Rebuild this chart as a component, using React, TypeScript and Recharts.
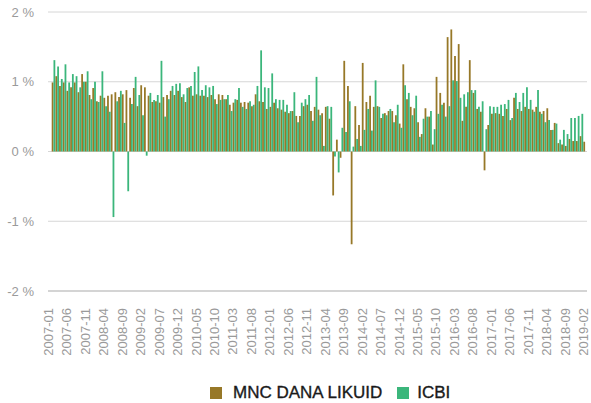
import React from 'react';
import { BarChart, Bar, XAxis, YAxis, CartesianGrid, Legend } from 'recharts';

// Category labels: monthly, 2007-01 .. 2019-02 (146 months)
const months: string[] = [];
for (let k = 0; k < 146; k++) {
  const y = 2007 + Math.floor(k / 12);
  const m = (k % 12) + 1;
  months.push(`${y}-${m < 10 ? '0' + m : m}`);
}

// MNC DANA LIKUID monthly return (%)
const mncValues: (number | null)[] = [
  null,
  0.99, 1.08, 0.94, 0.99, 0.87, 0.92, 0.99, 0.85, 1.11, 1.00,
  0.81, 0.91, 0.72, 0.80, 0.77, 0.80, 0.82, 0.85, 0.78, 0.82,
  0.88, 0.77, 0.91, 0.65, 0.95, 0.92, 0.80, 0.71, 0.72, 0.70,
  0.78, 0.81, 0.87, 0.81, 0.87, 0.78, 0.71, 0.92, 0.80, 0.82,
  0.80, 0.80, 0.78, 0.81, 0.75, 0.82, 0.81, 0.75, 0.67, 0.70,
  0.74, 0.70, 0.71, 0.70, 0.65, 0.82, 0.72, 0.71, 0.61, 0.64,
  0.70, 0.62, 0.60, 0.57, 0.55, 0.58, 0.51, 0.51, 0.65, 0.67,
  0.58, 0.64, 0.60, 0.55, 0.64, 0.47, -0.63, 0.17, -0.09, 1.30,
  0.94, -1.33, 0.65, 0.38, 1.27, 0.71, 0.80, 0.64, 0.65, 0.48,
  0.55, 0.58, 0.58, 0.52, 0.40, 1.25, 0.75, 0.64, 0.62, 0.42,
  0.25, 0.62, 0.50, 0.10, 1.07, 0.84, 0.70, 1.64, 1.75, 1.37,
  1.54, 0.44, 0.64, 1.31, 0.84, 0.61, 0.57, -0.27, 0.38, 0.54,
  0.55, 0.54, 0.51, 0.61, 0.45, 0.77, 0.61, 0.58, 0.64, 0.61,
  0.60, 0.64, 0.57, 0.58, 0.62, 0.31, 0.41, 0.12, 0.10, 0.08,
  0.18, 0.15, 0.15, 0.22, 0.14,
];

// ICBI monthly return (%)
const icbiValues: (number | null)[] = [
  null,
  1.31, 1.22, 1.04, 1.25, 0.99, 1.11, 1.08, 0.92, 1.00, 1.15,
  0.75, 1.00, 0.71, 1.15, 0.65, 0.57, -0.94, 0.72, 0.87, 0.41,
  -0.57, 0.68, 1.07, 0.81, 0.52, -0.06, 0.84, 0.74, 0.81, 1.30,
  0.50, 0.75, 0.94, 0.97, 0.98, 0.82, 0.91, 0.94, 1.14, 1.22,
  0.88, 0.95, 0.92, 0.94, 0.68, 0.74, 0.75, 0.81, 0.58, 0.75,
  0.91, 0.64, 0.61, 0.72, 0.67, 0.94, 1.45, 0.92, 0.91, 1.12,
  0.75, 0.74, 0.74, 0.67, 0.58, 0.85, 0.42, 0.70, 0.75, 0.81,
  0.44, 1.07, 0.52, 0.08, 0.65, 0.64, -0.07, -0.30, 0.34, 0.28,
  0.72, 0.07, 0.18, 0.08, 0.31, 0.61, 0.30, 1.02, 0.64, 0.54,
  0.52, 0.61, 0.42, 0.67, 0.34, 0.95, 0.84, 0.52, 0.80, 0.21,
  0.47, 0.50, 0.58, 0.32, 0.54, 0.67, 0.50, 0.65, 1.02, 1.01,
  0.77, 0.82, 0.85, 0.88, 0.88, 0.64, 0.72, 0.32, 0.65, 0.64,
  0.64, 0.67, 0.68, 0.74, 0.48, 0.84, 0.71, 0.84, 0.92, 0.74,
  0.57, 0.88, 0.54, 0.42, 0.45, 0.31, 0.40, 0.17, 0.31, 0.25,
  0.48, 0.48, 0.51, 0.54,
  null,
];

const yTicks = [-2, -1, 0, 1, 2];

const seriesNames = ['MNC DANA LIKUID', 'ICBI'];
const seriesColors = ['#977828', '#3bb67b'];

const data = months.map((month, i) => ({
  month,
  mnc: mncValues[i],
  icbi: icbiValues[i],
}));

const FONT = '"Liberation Sans", Arial, Helvetica, sans-serif';

const XTick = (props: any) => {
  const { x, y, payload } = props;
  const tx = x - 1.5;
  return (
    <text
      x={tx}
      y={y}
      transform={`rotate(-90, ${tx}, ${y})`}
      textAnchor="end"
      dominantBaseline="central"
      fill="#9a9a9a"
      fontSize={13}
      fontFamily={FONT}
    >
      {payload.value}
    </text>
  );
};

const square = (color: string, marginLeft: number) => (
  <svg width={12} height={12} style={{ display: 'block', flexShrink: 0, marginLeft }}>
    <rect x={0} y={0} width={12} height={12} fill={color} />
  </svg>
);

const LegendContent = () => (
  <div
    style={{
      height: 20,
      display: 'flex',
      alignItems: 'center',
      paddingLeft: 210,
      fontFamily: FONT,
      fontSize: 17,
      color: '#1a1a1a',
      whiteSpace: 'nowrap',
      WebkitTextStroke: '0.35px #1a1a1a',
    }}
  >
    {square(seriesColors[0], 0)}
    <span style={{ marginLeft: 11 }}>{seriesNames[0]}</span>
    {square(seriesColors[1], 15)}
    <span style={{ marginLeft: 8 }}>{seriesNames[1]}</span>
  </div>
);

export default function App() {
  return (
    <div style={{ position: 'absolute', left: 0, top: 0, width: 591, height: 403, background: '#fff' }}>
      <BarChart
        width={591}
        height={403}
        data={data}
        margin={{ top: 12, right: 4, bottom: 0, left: 0 }}
        barGap={0}
        barCategoryGap={0}
      >
        <CartesianGrid vertical={false} stroke="#d6d6d6" />
        <XAxis
          dataKey="month"
          interval={4}
          height={92}
          tickLine={false}
          tickSize={0}
          tickMargin={17}
          axisLine={{ stroke: '#bdbdbd' }}
          tick={<XTick />}
        />
        <YAxis
          domain={[-2, 2]}
          ticks={yTicks}
          width={48}
          tickLine={false}
          axisLine={false}
          tickSize={0}
          tickMargin={14}
          tickFormatter={(v: number) => `${v} %`}
          tick={{ fill: '#9a9a9a', fontSize: 13, fontFamily: FONT }}
        />
        <Legend verticalAlign="bottom" align="left" content={<LegendContent />} />
        <Bar dataKey="mnc" name={seriesNames[0]} fill={seriesColors[0]} barSize={1.8} isAnimationActive={false} />
        <Bar dataKey="icbi" name={seriesNames[1]} fill={seriesColors[1]} barSize={1.8} isAnimationActive={false} />
      </BarChart>
    </div>
  );
}
